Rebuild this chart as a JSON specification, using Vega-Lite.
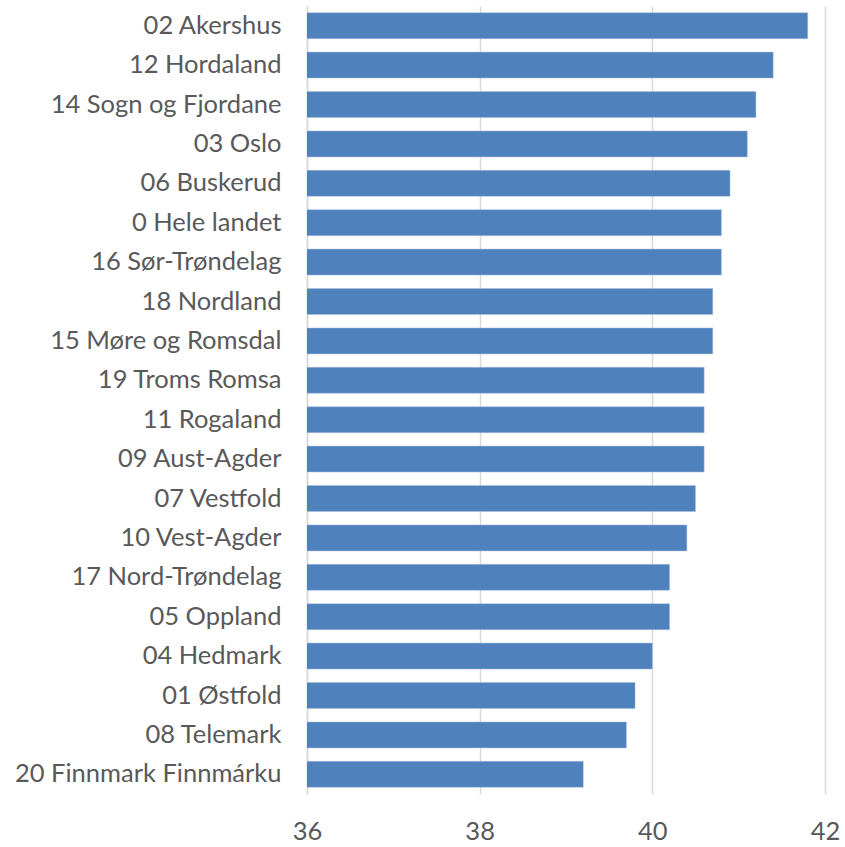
{
  "$schema": "https://vega.github.io/schema/vega-lite/v6.json",
  "autosize": "none",
  "width": 518,
  "height": 788,
  "padding": {"left": 307, "top": 6, "right": 20, "bottom": 53},
  "background": "white",
  "config": {"view": {"stroke": null}, "font": "Lato"},
  "data": {"values": [
    {"region": "02 Akershus", "value": 41.8},
    {"region": "12 Hordaland", "value": 41.4},
    {"region": "14 Sogn og Fjordane", "value": 41.2},
    {"region": "03 Oslo", "value": 41.1},
    {"region": "06 Buskerud", "value": 40.9},
    {"region": "0 Hele landet", "value": 40.8},
    {"region": "16 Sør-Trøndelag", "value": 40.8},
    {"region": "18 Nordland", "value": 40.7},
    {"region": "15 Møre og Romsdal", "value": 40.7},
    {"region": "19 Troms Romsa", "value": 40.6},
    {"region": "11 Rogaland", "value": 40.6},
    {"region": "09 Aust-Agder", "value": 40.6},
    {"region": "07 Vestfold", "value": 40.5},
    {"region": "10 Vest-Agder", "value": 40.4},
    {"region": "17 Nord-Trøndelag", "value": 40.2},
    {"region": "05 Oppland", "value": 40.2},
    {"region": "04 Hedmark", "value": 40.0},
    {"region": "01 Østfold", "value": 39.8},
    {"region": "08 Telemark", "value": 39.7},
    {"region": "20 Finnmark Finnmárku", "value": 39.2}
  ]},
  "mark": {"type": "bar", "color": "#4F81BD", "stroke": "#a9c0df", "strokeWidth": 0.5, "clip": true},
  "encoding": {
    "y": {
      "field": "region", "type": "nominal", "sort": null,
      "scale": {"paddingInner": 0.34, "paddingOuter": 0.17},
      "axis": {"title": null, "ticks": false, "domain": true, "domainColor": "#d9d9d9", "domainWidth": 1.5,
               "labelFontSize": 25.5, "labelColor": "#595959", "labelPadding": 26, "labelLimit": 400, "grid": false}
    },
    "x": {
      "field": "value", "type": "quantitative",
      "scale": {"domain": [36, 42], "zero": false, "nice": false},
      "axis": {"title": null, "values": [36, 38, 40, 42], "ticks": false, "domain": false,
               "grid": true, "gridColor": "#d9d9d9", "gridWidth": 1.5,
               "labelFontSize": 25.5, "labelColor": "#595959", "labelPadding": 25, "labelFlush": false}
    }
  }
}
